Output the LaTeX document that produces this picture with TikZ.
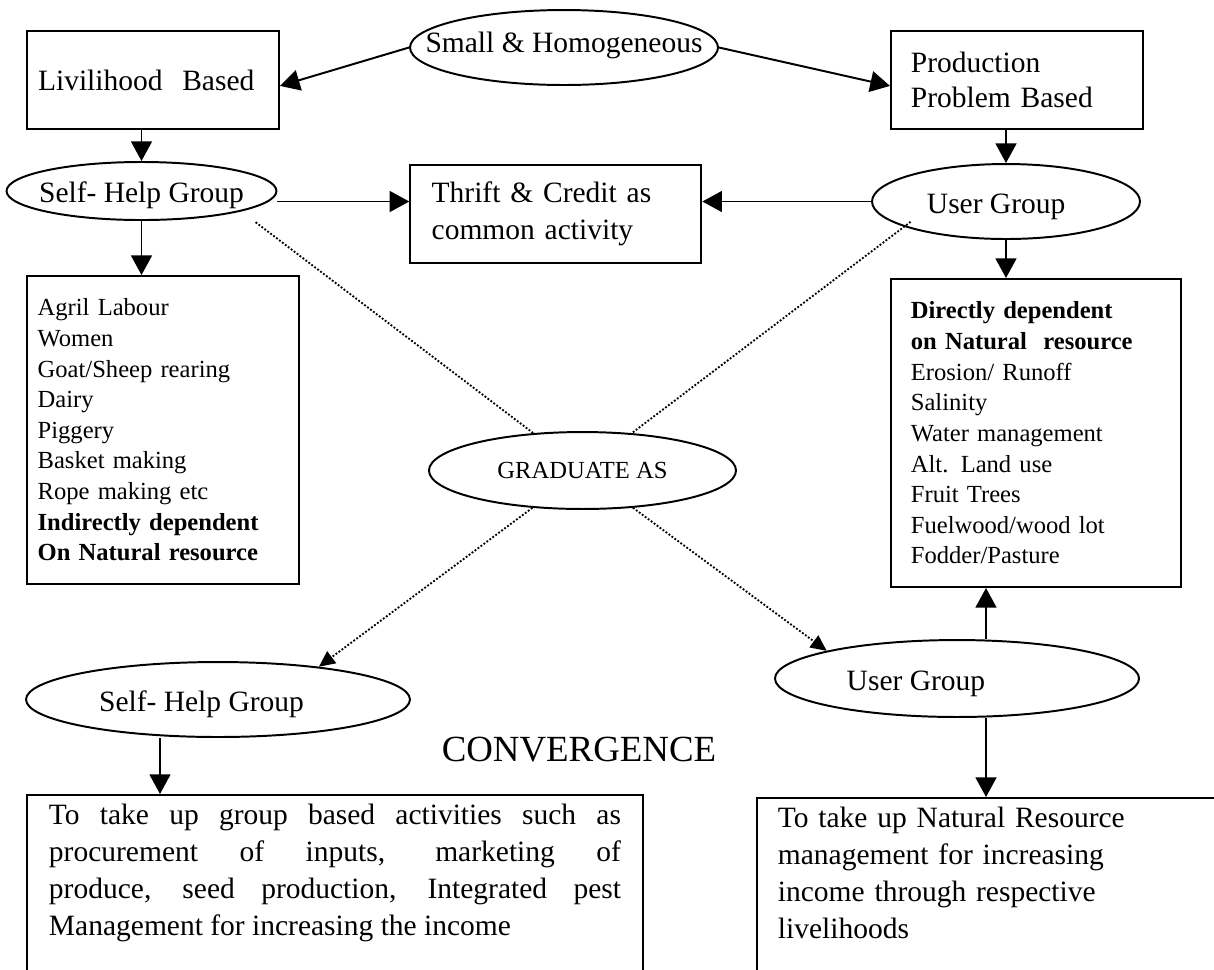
\documentclass[tikz,border=0pt]{standalone}
\usepackage{fontspec}
\setmainfont{Liberation Serif}
\usetikzlibrary{shapes.geometric,arrows.meta}

\begin{document}
\begin{tikzpicture}[x=0.4068pt,y=-0.4068pt,
		box/.style={draw,rectangle,line width=0.8pt,anchor=north west,align=left,font=\fontsize{12}{15}\selectfont},
		oval/.style={draw,ellipse,line width=0.8pt,inner sep=0pt,text height=9.6pt,text depth=0pt,font=\fontsize{12}{15}\selectfont},
		arr/.style={-{Triangle[length=8pt,width=8.5pt]},line width=0.8pt},
		dotline/.style={line width=0.75pt,dash pattern=on 0.75pt off 0.75pt},
		dotarr/.style={dotline,-{Triangle[length=6.5pt,width=6pt]}}]
		
		\useasboundingbox (0,0) rectangle (1214,969);
		\clip (0,0) rectangle (1214,969);
		
		% Top ellipse
		\node[oval,minimum width=125.3pt,minimum height=30.5pt,text height=4.4pt] (small) at (564,47.5) {\makebox[0pt]{Small \& Homogeneous}};
		
		% Top boxes
		\node[box,minimum width=102.5pt,minimum height=39.9pt,text width=93.5pt,inner xsep=4.5pt] (live) at (26,30) {Livilihood~~Based};
		\node[box,minimum width=102.5pt,minimum height=39.9pt,text width=86.3pt,inner xsep=8.1pt,font=\fontsize{12}{14.2}\selectfont] (prod) at (890,30) {Production\\Problem Based};
		
		% Groups
		\node[oval,minimum width=109.8pt,minimum height=23.6pt] (shg1) at (141.5,191) {\makebox[0pt]{Self- Help Group}};
		\node[oval,minimum width=109pt,minimum height=30.5pt] (ug1) at (1006,201.5) {\makebox[0pt]{User Group\kern8pt}};
		
		% Thrift & Credit
		\node[box,minimum width=118.4pt,minimum height=39.9pt,text width=101pt,inner xsep=8.7pt] (thrift) at (409.3,164) {Thrift \& Credit as\\common activity};
		
		% Lists
		\node[box,minimum width=110.6pt,minimum height=125.3pt,text width=101.9pt,inner xsep=4.35pt,font=\fontsize{10}{12.45}\selectfont] (lista) at (26,275) {Agril Labour\\Women\\Goat/Sheep rearing\\Dairy\\Piggery\\Basket making\\Rope making etc\\\textbf{Indirectly dependent}\\\textbf{On Natural resource}};
		\node[box,minimum width=118pt,minimum height=125.3pt,text width=101.8pt,inner xsep=8.1pt,font=\fontsize{10}{12.45}\selectfont] (listb) at (890,278) {\textbf{Directly dependent}\\\textbf{on Natural~~resource}\\Erosion/ Runoff\\Salinity\\Water management\\Alt. Land use\\Fruit Trees\\Fuelwood/wood lot\\Fodder/Pasture};
		
		% Graduate
		\node[oval,minimum width=124.9pt,minimum height=31.3pt,text height=6.4pt,font=\fontsize{10}{12}\selectfont] (grad) at (582.5,470.5) {\makebox[0pt]{GRADUATE AS}};
		
		% Lower groups
		\node[oval,minimum width=156.2pt,minimum height=30.5pt,text height=10pt] (shg2) at (218,699.5) {\makebox[0pt]{Self- Help Group\kern13.4pt}};
		\node[oval,minimum width=148.1pt,minimum height=31.3pt] (ug2) at (957,678.5) {\makebox[0pt]{User Group\kern33.4pt}};
		
		\node[font=\fontsize{15}{18}\selectfont,anchor=base] (conv) at (579,761.7) {CONVERGENCE};
		
		% Bottom boxes (cut off below)
		\node[box,text width=232.7pt,inner xsep=8.95pt,inner ysep=3.7pt,text depth=65pt,align=justify] (boxa) at (26,794) {To take up group based activities such as\linebreak procurement of inputs, marketing of\linebreak produce, seed production, Integrated pest\linebreak Management for increasing the income};
		\node[box,text width=196pt,inner xsep=8.5pt,inner ysep=3.7pt,text depth=65pt] (boxb) at (756,797) {To take up Natural Resource\\management for increasing\\income through respective\\livelihoods};
		
		% Arrows
		\draw[arr] (small.west) -- ([yshift=-2.4pt]live.east);
		\draw[arr] (small.east) -- ([yshift=-2.4pt]prod.west);
		\draw[arr] (shg1.north |- live.south) -- (shg1.north);
		\draw[arr] (ug1.north |- prod.south) -- (ug1.north);
		\draw[arr] (shg1.east |- ug1.west) -- (thrift.west |- ug1.west);
		\draw[arr] (ug1.west) -- (thrift.east |- ug1.west);
		\draw[arr] (shg1.south) -- (shg1.south |- lista.north);
		\draw[arr] (ug1.south) -- (ug1.south |- listb.north);
		
		% Dotted lines
		\draw[dotline] ([shift={(18,10)}]shg1.south east) -- (grad);
		\draw[dotline] ([yshift=2.8pt]ug1.south west) -- (grad);
		\draw[dotarr] (grad) -- (shg2.18);
		\draw[dotarr] (grad) -- (ug2.168);
		
		% Lower arrows
		\coordinate (shgx) at ([xshift=-23.6pt]shg2.south);
		\coordinate (ugx) at ([xshift=11.8pt]ug2.north);
		\coordinate (ugy) at ([xshift=11.8pt]ug2.south);
		\draw[arr] (shgx) -- (shgx |- boxa.north);
		\draw[arr] (ugx) -- (ugx |- listb.south);
		\draw[arr] (ugy) -- (ugy |- boxb.north);
		
	\end{tikzpicture}
\end{document}
